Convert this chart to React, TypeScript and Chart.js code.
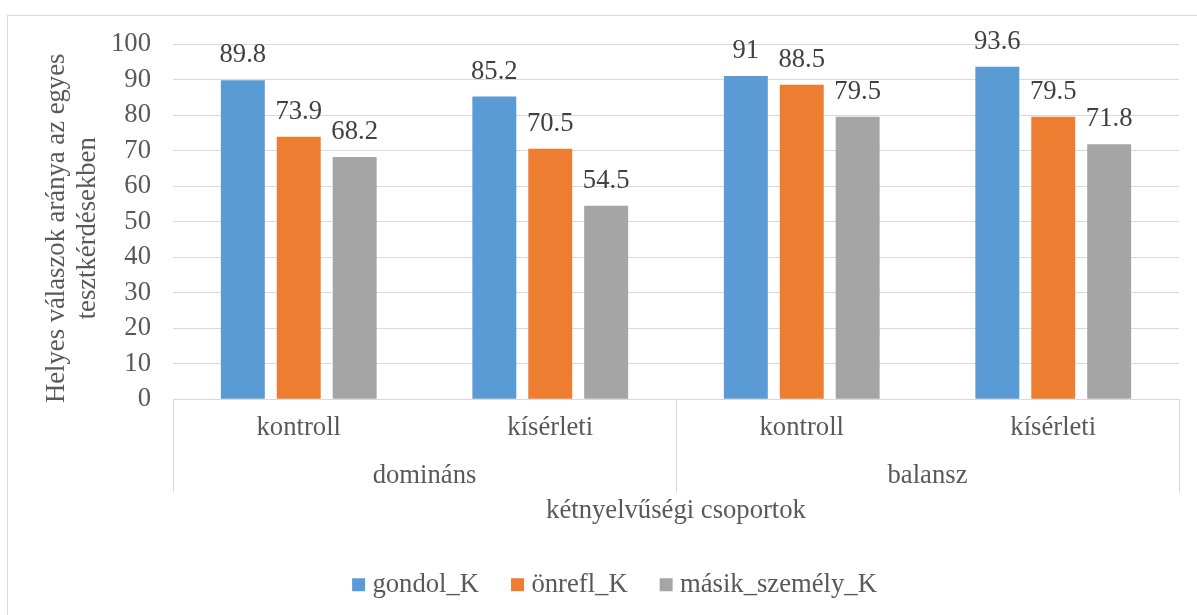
import React, { useEffect, useRef } from 'react';
import { Chart, registerables } from 'chart.js';

Chart.register(...registerables);

// ---- data ----
const categories = ['kontroll', 'kísérleti', 'kontroll', 'kísérleti'];
const groups = ['domináns', 'balansz'];
const groupSizes = [2, 2];
const seriesNames = ['gondol_K', 'önrefl_K', 'másik_személy_K'];
const gondolK = [89.8, 85.2, 91, 93.6];
const onreflK = [73.9, 70.5, 88.5, 79.5];
const masikK = [68.2, 54.5, 79.5, 71.8];
const seriesColors = ['#5B9BD5', '#ED7D31', '#A5A5A5'];
const yTitle = ['Helyes válaszok aránya az egyes  ', 'tesztkérdésekben  '];
const xTitle = 'kétnyelvűségi csoportok';
const yMin = 0;
const yMax = 100;
const yStep = 10;

const FONT = '"Liberation Serif", "Times New Roman", serif';
const FS = 26.67;
const TEXT = '#595959';
const LABEL = '#404040';
const LINE = '#D9D9D9';

const valueLabels = {
  id: 'valueLabels',
  afterDatasetsDraw(chart: any) {
    const ctx = chart.ctx;
    ctx.save();
    ctx.font = `${FS}px ${FONT}`;
    ctx.fillStyle = LABEL;
    ctx.textAlign = 'center';
    ctx.textBaseline = 'alphabetic';
    chart.data.datasets.forEach((ds: any, i: number) => {
      const meta = chart.getDatasetMeta(i);
      meta.data.forEach((el: any, j: number) => {
        ctx.fillText(String(ds.data[j]), el.x, el.y - 18);
      });
    });
    ctx.restore();
  },
};

const groupAxis = {
  id: 'groupAxis',
  afterDraw(chart: any) {
    const xs = chart.scales.x;
    const ctx = chart.ctx;
    const step = xs.getPixelForValue(1) - xs.getPixelForValue(0);
    const top = xs.top;
    ctx.save();
    ctx.strokeStyle = LINE;
    ctx.lineWidth = 1;
    ctx.font = `${FS}px ${FONT}`;
    ctx.fillStyle = TEXT;
    ctx.textAlign = 'center';
    ctx.textBaseline = 'middle';
    const edges: number[] = [xs.getPixelForValue(0) - step / 2];
    let idx = 0;
    groups.forEach((g, gi) => {
      const start = xs.getPixelForValue(idx) - step / 2;
      idx += groupSizes[gi];
      const end = xs.getPixelForValue(idx - 1) + step / 2;
      edges.push(end);
      ctx.fillText(g, (start + end) / 2, top + 77);
    });
    edges.forEach((x) => {
      const px = Math.round(x) + 0.5;
      ctx.beginPath();
      ctx.moveTo(px, top);
      ctx.lineTo(px, top + 93);
      ctx.stroke();
    });
    ctx.restore();
  },
};

export default function App() {
  const ref = useRef<HTMLCanvasElement>(null);
  useEffect(() => {
    const values = [gondolK, onreflK, masikK];
    const chart = new Chart(ref.current as HTMLCanvasElement, {
      type: 'bar',
      data: {
        labels: categories,
        datasets: seriesNames.map((name, i) => ({
          label: name,
          data: values[i],
          backgroundColor: seriesColors[i],
          borderWidth: 0,
          categoryPercentage: 0.667,
          barPercentage: 0.786,
        })),
      },
      options: {
        responsive: false,
        animation: false,
        devicePixelRatio: 1,
        layout: { padding: { top: 28, left: 0, right: 0, bottom: 0 } },
        plugins: {
          tooltip: { enabled: false },
          legend: {
            position: 'bottom',
            labels: {
              font: { family: FONT, size: FS },
              color: TEXT,
              usePointStyle: true,
              pointStyle: 'rect',
              boxWidth: 1,
              boxHeight: 13,
              padding: 38,
            },
          },
        },
        scales: {
          x: {
            grid: { display: false, drawTicks: false },
            border: { display: true, color: LINE, width: 1 },
            ticks: {
              font: { family: FONT, size: FS, lineHeight: 1.2 },
              color: TEXT,
              padding: 13,
              maxRotation: 0,
              autoSkip: false,
            },
            title: {
              display: true,
              text: xTitle,
              color: TEXT,
              font: { family: FONT, size: FS, lineHeight: 1.2 },
              padding: { top: 38, bottom: 6 },
            },
          },
          y: {
            min: yMin,
            max: yMax,
            ticks: {
              stepSize: yStep,
              font: { family: FONT, size: FS, lineHeight: 1.2 },
              color: TEXT,
              padding: 0,
              autoSkip: false,
            },
            grid: {
              color: LINE,
              lineWidth: 1,
              drawTicks: true,
              tickLength: 22,
              tickColor: 'rgba(0,0,0,0)',
            },
            border: { display: false },
            title: {
              display: true,
              text: yTitle,
              color: TEXT,
              font: { family: FONT, size: FS, lineHeight: 1.16 },
              padding: { top: 33.5, bottom: 0 },
            },
            afterFit(s: any) {
              s.width = 165;
            },
          },
          yR: {
            position: 'right',
            display: true,
            grid: { display: false, drawTicks: false },
            ticks: { display: false },
            border: { display: false },
            afterFit(s: any) {
              s.width = 48;
            },
          },
        },
      } as any,
      plugins: [valueLabels, groupAxis],
    });
    return () => chart.destroy();
  }, []);

  return (
    <div
      style={{
        position: 'fixed',
        left: 0,
        top: 0,
        width: 1197,
        height: 615,
        overflow: 'hidden',
        background: '#fff',
      }}
    >
      <div
        style={{
          position: 'absolute',
          left: 7,
          top: 15,
          width: 1219,
          height: 640,
          border: `1px solid ${LINE}`,
          background: '#fff',
        }}
      >
        <canvas
          ref={ref}
          width={1219}
          height={592}
          style={{ display: 'block', width: 1219, height: 592 }}
        />
      </div>
    </div>
  );
}
